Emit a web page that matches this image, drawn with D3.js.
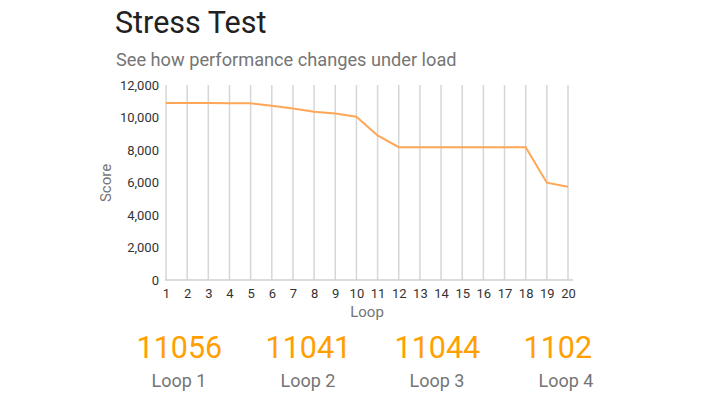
<!DOCTYPE html>
<html>
<head>
<meta charset="utf-8">
<script src="https://d3js.org/d3.v7.min.js"></script>
<style>
  body { margin: 0; background: #fff; font-family: Roboto, "Noto Sans", sans-serif; }
</style>
</head>
<body>
<svg width="708" height="399"></svg>
<script>
// chart data
var loops = d3.range(1, 21);
var scores = [10900, 10900, 10900, 10880, 10870, 10720, 10550, 10360, 10250, 10050,
              8900, 8170, 8170, 8170, 8170, 8170, 8170, 8170, 5990, 5740];
var yTicks = [0, 2000, 4000, 6000, 8000, 10000, 12000];
var summaryValues = ["11056", "11041", "11044", "1102"];
var summaryLabels = ["Loop 1", "Loop 2", "Loop 3", "Loop 4"];

var svg = d3.select("svg");

svg.append("text")
  .attr("x", 115).attr("y", 33)
  .attr("font-size", 30.5).attr("fill", "#212121")
  .text("Stress Test");

svg.append("text")
  .attr("x", 116).attr("y", 66)
  .attr("font-size", 18.2).attr("fill", "#757575")
  .text("See how performance changes under load");

var x = d3.scaleLinear().domain([1, 20]).range([166, 568]);
var y = d3.scaleLinear().domain([0, 12000]).range([280, 85]);

// vertical grid lines
svg.append("g")
  .selectAll("line")
  .data(loops)
  .enter()
  .append("line")
  .attr("x1", function (d) { return x(d); })
  .attr("x2", function (d) { return x(d); })
  .attr("y1", y(12000))
  .attr("y2", y(0))
  .attr("stroke", "#d6d6d6")
  .attr("stroke-width", 1.5);

// baseline
svg.append("line")
  .attr("x1", x(1) - 1).attr("x2", x(20) + 5)
  .attr("y1", y(0)).attr("y2", y(0))
  .attr("stroke", "#cfcfcf").attr("stroke-width", 1.5);

// y axis labels
var yAxis = svg.append("g")
  .attr("transform", "translate(" + (x(1) - 7) + ",0)")
  .call(d3.axisLeft(y).tickValues(yTicks).tickSize(0).tickPadding(0).tickFormat(d3.format(",")));
yAxis.select(".domain").remove();
yAxis.selectAll("text")
  .attr("font-family", "Roboto").attr("font-size", 13).attr("fill", "#333");

// x axis labels
var xAxis = svg.append("g")
  .attr("transform", "translate(0," + (y(0) + 6) + ")")
  .call(d3.axisBottom(x).tickValues(loops).tickSize(0).tickPadding(3).tickFormat(d3.format("d")));
xAxis.select(".domain").remove();
xAxis.selectAll("text")
  .attr("font-family", "Roboto").attr("font-size", 13).attr("fill", "#333");

svg.append("text")
  .attr("transform", "translate(111,183) rotate(-90)")
  .attr("text-anchor", "middle")
  .attr("font-size", 15).attr("fill", "#757575")
  .text("Score");

svg.append("text")
  .attr("x", (x(1) + x(20)) / 2).attr("y", 317)
  .attr("text-anchor", "middle")
  .attr("font-size", 15).attr("fill", "#757575")
  .text("Loop");

// score line
var line = d3.line()
  .x(function (d, i) { return x(loops[i]); })
  .y(function (d) { return y(d); });

svg.append("path")
  .datum(scores)
  .attr("d", line)
  .attr("fill", "none")
  .attr("stroke", "#ffa657")
  .attr("stroke-width", 2);

// summary numbers
var col = d3.scaleLinear().domain([0, 3]).range([179, 566]);

svg.append("g")
  .selectAll("text")
  .data(summaryValues)
  .enter()
  .append("text")
  .attr("x", function (d, i) { return col(i) - 42.5; })
  .attr("y", 358)
  .attr("font-size", 30.5)
  .attr("fill", "#ffa000")
  .text(function (d) { return d; });

svg.append("g")
  .selectAll("text")
  .data(summaryLabels)
  .enter()
  .append("text")
  .attr("x", function (d, i) { return col(i); })
  .attr("y", 387)
  .attr("text-anchor", "middle")
  .attr("font-size", 18)
  .attr("fill", "#757575")
  .text(function (d) { return d; });
</script>
</body>
</html>
